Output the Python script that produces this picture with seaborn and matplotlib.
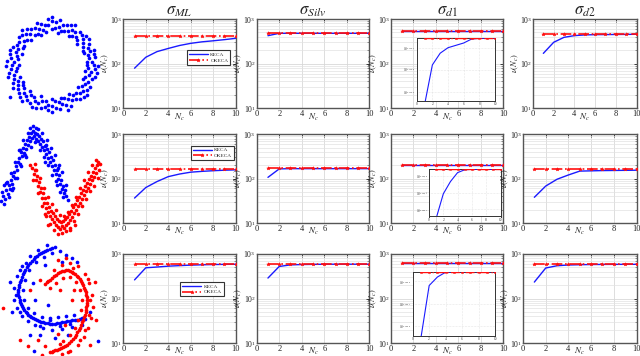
import numpy as np
import matplotlib
matplotlib.use("Agg")
import matplotlib.pyplot as plt
import seaborn as sns
from matplotlib.ticker import FixedLocator, NullLocator, LogLocator, NullFormatter, FixedFormatter

# ---------------- data ----------------
nc = [1, 2, 3, 4, 5, 6, 7, 8, 9, 10]
col_titles = [r"$\sigma_{ML}$", r"$\sigma_{Silv}$", r"$\sigma_{d1}$", r"$\sigma_{d2}$"]
series_names = ["KECA", "OKECA"]

# row 1 (ring)
keca_r1c1 = [79, 139, 186, 219, 255, 285, 308, 325, 345, 369]
okeca_r1c1 = [416, 416, 416, 416, 416, 416, 416, 416, 416, 416]
keca_r1c2 = [423, 478, 478, 478, 478, 478, 478, 478, 478, 478]
okeca_r1c2 = [478, 478, 478, 478, 478, 478, 478, 478, 478, 478]
keca_r1c3 = [538, 538, 538, 538, 538, 538, 538, 538, 538, 538]
okeca_r1c3 = [538, 538, 538, 538, 538, 538, 538, 538, 538, 538]
keca_r1c4 = [170, 301, 389, 424, 440, 446, 448, 450, 452, 455]
okeca_r1c4 = [461, 461, 461, 461, 461, 461, 461, 461, 461, 461]
# row 2 (moons)
keca_r2c1 = [36.5, 63, 86, 111, 127, 140, 146, 151, 155, 158]
okeca_r2c1 = [163, 163, 163, 163, 163, 163, 163, 163, 163, 163]
keca_r2c2 = [107, 166, 168, 168, 168, 168, 168, 168, 168, 168]
okeca_r2c2 = [170, 170, 170, 170, 170, 170, 170, 170, 170, 170]
keca_r2c3 = [204, 204, 204, 204, 204, 204, 204, 204, 204, 204]
okeca_r2c3 = [204, 204, 204, 204, 204, 204, 204, 204, 204, 204]
keca_r2c4 = [38, 68, 97, 121, 148, 150, 152, 153, 154, 155]
okeca_r2c4 = [163, 163, 163, 163, 163, 163, 163, 163, 163, 163]
# row 3 (swirl)
keca_r3c1 = [262, 490, 510, 533, 548, 562, 572, 580, 585, 589]
okeca_r3c1 = [603, 603, 603, 603, 603, 603, 603, 603, 603, 603]
keca_r3c2 = [288, 525, 569, 580, 585, 588, 590, 590, 590, 590]
okeca_r3c2 = [597, 597, 597, 597, 597, 597, 597, 597, 597, 597]
keca_r3c3 = [615, 615, 615, 615, 615, 615, 615, 615, 615, 615]
okeca_r3c3 = [615, 615, 615, 615, 615, 615, 615, 615, 615, 615]
keca_r3c4 = [234, 484, 545, 566, 575, 580, 583, 585, 586, 587]
okeca_r3c4 = [597, 597, 597, 597, 597, 597, 597, 597, 597, 597]

# insets (zoom of sigma_d1 column)
inset_keca_r1 = [537.15, 537.66, 537.81, 537.88, 537.91, 537.94, 537.99, 538.0, 538.0, 538.0]
inset_okeca_r1 = [538.0, 538.0, 538.0, 538.0, 538.0, 538.0, 538.0, 538.0, 538.0, 538.0]
inset_keca_r2 = [203.48, 203.74, 203.87, 203.965, 203.995, 204.0, 204.0, 204.0, 204.0, 204.0]
inset_okeca_r2 = [204.0, 204.0, 204.0, 204.0, 204.0, 204.0, 204.0, 204.0, 204.0, 204.0]
inset_keca_r3 = [614.38, 614.87, 614.95, 614.995, 615.0, 615.0, 615.0, 615.0, 615.0, 615.0]
inset_okeca_r3 = [615.0, 615.0, 615.0, 615.0, 615.0, 615.0, 615.0, 615.0, 615.0, 615.0]

# scatter data sets (read in picture pixel coordinates)
ring_x = [87, 94, 98, 89, 95, 84, 90, 94, 83, 89, 77, 83, 86, 76, 80, 69, 72, 75, 64, 67, 58, 59, 60, 52, 52, 52,
          46, 45, 39, 37, 41, 35, 31, 31, 26, 22, 24, 19, 23, 17, 16, 10, 22, 18, 11, 19, 12, 6, 16, 9, 20, 14, 18,
          13, 23, 24, 19, 30, 26, 22, 34, 30, 41, 38, 36, 46, 45, 52, 52, 52, 59, 60, 64, 66, 68, 69, 72, 76, 80, 78,
          83, 87, 85, 90, 85, 92, 85, 91, 97, 10,
          92, 87, 88, 94, 88, 83, 83, 89, 77, 82, 75, 72, 68, 71, 63, 61, 55, 56, 48, 48, 43, 41, 35, 38, 30, 27, 27,
          22, 19, 24, 13, 18, 17, 10, 14, 7, 11, 17, 14, 8, 18, 13, 18, 23, 24, 20, 31, 27, 35, 32, 42, 41, 48, 48,
          55, 56, 62, 61, 68, 71, 73, 76, 80, 84, 82, 87, 88, 83, 89, 95, 88, 95]
ring_y = [65, 65, 66, 58, 57, 53, 51, 50, 47, 44, 44, 39, 36, 37, 32, 36, 30, 25, 31, 25, 33, 27, 20, 29, 21, 17,
          32, 25, 29, 23, 35, 35, 29, 40, 34, 30, 41, 37, 48, 45, 52, 50, 54, 59, 58, 65, 65, 66, 71, 73, 77, 79, 85,
          88, 82, 88, 93, 91, 96, 101, 97, 103, 96, 103, 108, 101, 107, 99, 106, 112, 102, 109, 98, 105, 110, 94, 100,
          93, 99, 87, 91, 95, 84, 87, 77, 79, 71, 72, 73, 97,
          62, 62, 55, 54, 48, 51, 43, 39, 40, 35, 32, 36, 31, 25, 25, 31, 28, 22, 25, 19, 30, 24, 28, 34, 34, 29, 40,
          35, 42, 46, 47, 49, 56, 54, 62, 61, 69, 68, 75, 77, 81, 83, 89, 85, 93, 97, 95, 100, 101, 107, 101, 108,
          105, 110, 101, 108, 104, 98, 99, 106, 95, 99, 93, 97, 86, 90, 82, 79, 75, 77, 68, 69]

moon_blue_x = [1, 3, 5, 6, 8, 9, 10, 11, 12, 13, 14, 15, 16, 17, 18, 19, 20, 21, 22, 23, 24, 25, 26, 27, 28, 29,
               30, 31, 32, 33, 34, 35, 36, 37, 38, 39, 40, 41, 42, 43, 44, 45, 46, 47, 48, 49, 50, 51, 52, 53, 54,
               55, 56, 57, 58, 59, 60, 61, 62, 63, 64, 65, 66, 7, 20, 36, 46, 57, 25, 12,
               2, 4, 6, 9, 11, 13, 15, 17, 19, 21, 23, 26, 28, 31, 33, 35, 38, 40, 42, 44, 47, 48, 51, 52, 55, 56,
               59, 60, 62, 63, 66, 68, 4, 30, 45, 58]
moon_blue_y = [201, 196, 199, 190, 194, 185, 189, 180, 184, 176, 172, 178, 166, 170, 162, 158, 164, 152, 156, 148,
               153, 144, 149, 140, 145, 137, 141, 133, 138, 131, 136, 133, 139, 134, 141, 136, 144, 139, 147, 141,
               150, 146, 154, 149, 158, 152, 162, 157, 166, 160, 170, 165, 174, 170, 179, 175, 184, 180, 189, 186,
               193, 190, 196, 182, 150, 128, 145, 185, 155, 190,
               192, 204, 183, 197, 173, 188, 162, 178, 150, 166, 140, 157, 133, 147, 126, 142, 129, 150, 133, 157,
               140, 165, 148, 175, 155, 181, 165, 192, 172, 197, 185, 200, 185, 128, 162, 168]
moon_red_x = [32, 34, 35, 36, 37, 38, 39, 40, 41, 42, 43, 44, 45, 46, 47, 48, 49, 50, 51, 52, 53, 54, 55, 56, 57,
              58, 59, 60, 61, 62, 63, 64, 65, 66, 67, 68, 69, 70, 71, 72, 73, 74, 75, 76, 77, 78, 79, 80, 81, 82,
              83, 84, 85, 86, 87, 88, 89, 90, 91, 92, 93, 94, 95, 96, 97, 98, 99, 45, 70, 30,
              33, 35, 38, 40, 42, 44, 46, 48, 50, 52, 54, 56, 58, 60, 62, 64, 66, 68, 70, 72, 74, 76, 78, 80, 82,
              84, 86, 88, 90, 92, 94, 96, 98, 100, 36, 48, 75]
moon_red_y = [168, 174, 170, 180, 176, 186, 182, 192, 188, 198, 193, 203, 198, 208, 203, 212, 207, 216, 211, 219,
              213, 222, 216, 225, 219, 227, 221, 229, 222, 226, 221, 228, 219, 225, 217, 223, 214, 220, 211, 217,
              207, 213, 204, 210, 200, 206, 197, 203, 193, 199, 190, 195, 186, 191, 183, 188, 179, 184, 176, 180,
              172, 177, 168, 173, 165, 162, 170, 214, 230, 165,
              180, 164, 193, 178, 206, 188, 216, 197, 224, 204, 230, 210, 234, 215, 233, 216, 231, 212, 228, 205,
              221, 197, 214, 188, 206, 180, 199, 172, 191, 165, 186, 160, 178, 164, 170, 225, 225]

swirl_blue_x = [55, 50, 45, 41, 37, 34, 30, 27, 24, 22, 20, 19, 18, 19, 20, 22, 24, 27, 30, 33, 37, 41, 45, 50, 55,
                60, 65, 70, 75, 80, 85, 52, 44, 36, 29, 25, 23, 24, 28, 34, 42, 50, 58, 66, 74, 47, 38, 30, 22, 17,
                14, 14, 17, 22, 28, 35, 43, 52, 62, 72, 82, 60, 66, 72, 62, 77, 45, 33, 35, 12, 10, 40, 55, 30, 98,
                34, 90, 68, 48,
                52, 47, 43, 39, 35, 32, 28, 25, 23, 21, 19, 18, 18, 20, 21, 23, 26, 28, 31, 35, 39, 43, 48, 52, 57,
                62, 67, 72, 77, 82, 26, 20, 16, 20, 40, 60, 50, 70]
swirl_blue_y = [247, 249, 251, 253, 256, 259, 263, 267, 272, 277, 282, 287, 292, 297, 302, 306, 310, 313, 316, 318,
                320, 322, 323, 324, 324, 323, 322, 321, 320, 319, 319, 253, 257, 262, 270, 280, 290, 300, 308, 313,
                317, 318, 317, 316, 315, 245, 250, 256, 266, 276, 288, 300, 308, 316, 321, 325, 328, 330, 329, 327,
                325, 251, 255, 258, 262, 262, 265, 283, 300, 312, 282, 335, 338, 335, 341, 351, 312, 335, 305,
                248, 250, 252, 254, 257, 261, 265, 270, 274, 280, 285, 290, 295, 300, 304, 308, 312, 315, 317, 319,
                321, 322, 323, 324, 323, 322, 321, 320, 320, 318, 263, 270, 295, 312, 326, 326, 320, 324]
swirl_red_x = [45, 48, 52, 56, 60, 64, 68, 72, 75, 78, 81, 83, 85, 86, 87, 87, 86, 85, 83, 81, 79, 76, 73, 69, 65,
               61, 57, 53, 50, 50, 56, 63, 70, 76, 80, 82, 81, 78, 75, 70, 63, 54, 62, 70, 78, 85, 89, 92, 93, 91,
               88, 84, 78, 70, 62, 40, 58, 66, 95, 96, 3, 20, 28, 38, 45, 58, 65, 72, 74, 42, 90, 30, 60,
               47, 50, 54, 58, 62, 66, 70, 73, 77, 80, 82, 84, 86, 87, 87, 86, 86, 84, 82, 80, 77, 75, 71, 67, 63,
               59, 55, 52, 73, 88, 90, 89, 85, 80, 60, 68]
swirl_red_y = [284, 281, 278, 275, 272, 271, 270, 272, 274, 277, 281, 285, 290, 295, 300, 305, 310, 315, 320, 325,
               330, 335, 339, 343, 346, 348, 350, 351, 352, 288, 283, 278, 277, 282, 290, 300, 310, 320, 328, 335,
               341, 270, 265, 263, 266, 274, 283, 295, 307, 318, 328, 337, 345, 351, 354, 280, 260, 258, 282, 320,
               308, 340, 346, 340, 346, 334, 325, 300, 290, 355, 345, 290, 290,
               282, 280, 276, 273, 271, 270, 271, 273, 276, 279, 283, 288, 292, 297, 303, 307, 312, 317, 322, 328,
               332, 337, 341, 345, 347, 349, 350, 352, 268, 279, 300, 315, 330, 340, 344, 352]

keca = [[keca_r1c1, keca_r1c2, keca_r1c3, keca_r1c4],
        [keca_r2c1, keca_r2c2, keca_r2c3, keca_r2c4],
        [keca_r3c1, keca_r3c2, keca_r3c3, keca_r3c4]]
okeca = [[okeca_r1c1, okeca_r1c2, okeca_r1c3, okeca_r1c4],
         [okeca_r2c1, okeca_r2c2, okeca_r2c3, okeca_r2c4],
         [okeca_r3c1, okeca_r3c2, okeca_r3c3, okeca_r3c4]]
insets = [(inset_keca_r1, inset_okeca_r1, 537.2, 538.0),
          (inset_keca_r2, inset_okeca_r2, 203.5, 204.0),
          (inset_keca_r3, inset_okeca_r3, 614.4, 615.0)]

# ---------------- style ----------------
sns.set_style("white")
plt.rcParams["font.family"] = ["Liberation Serif", "DejaVu Serif"]
plt.rcParams["mathtext.fontset"] = "stix"

W, H = 640, 356
fig = plt.figure(figsize=(6.4, 3.56), dpi=100)
fig.patch.set_facecolor("white")


def add_px(x0, y0, x1, y1):
    return fig.add_axes([x0 / W, 1 - y1 / H, (x1 - x0) / W, (y1 - y0) / H])


BLUE = "#1a1aff"
RED = "#ff1010"
SPINE = "#555555"

col_x = [(123.3, 235.7), (256.7, 369.3), (391.0, 503.3), (523.0, 636.5)]
row_y = [(19.0, 108.3), (134.3, 223.0), (254.0, 343.0)]
legend_anchor = [(0.76, 0.57), (0.795, 0.79), (0.70, 0.605)]
inset_px = [(416.7, 38.3, 495.0, 101.0), (429.0, 169.3, 500.5, 216.5), (412.7, 271.7, 495.0, 335.7)]

for i in range(3):
    for j in range(4):
        x0, x1 = col_x[j]
        if i == 0 and j == 3:
            x0 = 533.0
        ax = add_px(x0, row_y[i][0], x1, row_y[i][1])
        sns.lineplot(x=nc, y=keca[i][j], ax=ax, color=BLUE, lw=1.0, label=series_names[0], zorder=3)
        sns.lineplot(x=nc, y=okeca[i][j], ax=ax, color=RED, lw=1.2, ls="-.", marker="*",
                     markersize=2.6, markeredgecolor=RED, markeredgewidth=0.4,
                     label=series_names[1], zorder=4)
        ax.set_yscale("log")
        ax.set_ylim(10, 1000)
        ax.set_xlim(0, 10)
        ax.set_xticks([0, 2, 4, 6, 8, 10])
        ax.yaxis.set_major_locator(FixedLocator([10, 100, 1000]))
        ax.yaxis.set_minor_locator(LogLocator(base=10, subs=np.arange(2, 10)))
        ax.yaxis.set_minor_formatter(NullFormatter())
        ax.grid(True, which="major", color="#d8d8d8", lw=0.6, ls="-")
        ax.grid(True, which="minor", axis="y", color="#e2e2e2", lw=0.5, ls="-")
        ax.set_axisbelow(True)
        ax.tick_params(axis="both", which="major", labelsize=6, direction="in", length=2.5,
                       width=0.6, colors="#222222", pad=1.2, top=True, right=True)
        ax.tick_params(axis="y", which="major", labelsize=5.6, pad=0.6)
        ax.tick_params(axis="y", which="minor", direction="in", length=1.3, width=0.4,
                       colors="#444444", right=True)
        for s in ax.spines.values():
            s.set_color(SPINE)
            s.set_linewidth(1.0)
        ax.set_xlabel(r"$N_c$", fontsize=6.5, color="#222222")
        ax.xaxis.set_label_coords(0.5, -0.035)
        ax.set_ylabel(r"$\nu(N_c)$", fontsize=6.0, color="#222222")
        ax.yaxis.set_label_coords(-12.2 / (x1 - x0), 0.5)
        if i == 0:
            ax.set_title(col_titles[j], fontsize=12, pad=3)
        leg = ax.get_legend()
        if leg is not None:
            leg.remove()
        if j == 0:
            lg = ax.legend(loc="center", bbox_to_anchor=legend_anchor[i], fontsize=3.8,
                           frameon=True, fancybox=False, edgecolor="#333333", framealpha=1,
                           borderpad=0.4, handlelength=3.5, labelspacing=0.2, handletextpad=0.5)
            lg.get_frame().set_linewidth(0.8)
        if j == 2:
            k_in, o_in, lo, hi = insets[i]
            ins = add_px(*inset_px[i])
            sns.lineplot(x=nc, y=k_in, ax=ins, color=BLUE, lw=0.8, zorder=3)
            sns.lineplot(x=nc, y=o_in, ax=ins, color=RED, lw=1.0, ls="-.", marker="*",
                         markersize=2.2, markeredgecolor=RED, markeredgewidth=0.4, zorder=4)
            ins.set_yscale("log")
            ins.set_ylim(lo, hi)
            ins.set_xlim(0, 10)
            ins.set_xticks([0, 2, 4, 6, 8, 10])
            yt = [lo + (hi - lo) * f for f in (0.15, 0.5, 0.85)]
            ins.yaxis.set_major_locator(FixedLocator(yt))
            ins.yaxis.set_major_formatter(FixedFormatter(
                ["$10^{%.4f}$" % np.log10(v) for v in yt]))
            ins.yaxis.set_minor_locator(NullLocator())
            ins.grid(True, color="#d0d0d0", lw=0.4, ls=":")
            ins.tick_params(labelsize=2.5, direction="in", length=1, width=0.4, pad=1,
                            colors="#333333")
            ins.set_facecolor("white")
            for s in ins.spines.values():
                s.set_color("#333333")
                s.set_linewidth(0.7)
            ins.set_xlabel("")
            ins.set_ylabel("")

# ---------------- scatter column ----------------
sax = fig.add_axes([0, 0, 112 / W, 1])
sax.set_zorder(-1)
sns.scatterplot(x=ring_x, y=ring_y, ax=sax, color="blue", s=7, linewidth=0)
sns.scatterplot(x=moon_blue_x, y=moon_blue_y, ax=sax, color="blue", s=7, linewidth=0)
sns.scatterplot(x=moon_red_x, y=moon_red_y, ax=sax, color="red", s=7, linewidth=0)
sns.scatterplot(x=swirl_blue_x, y=swirl_blue_y, ax=sax, color="blue", s=7, linewidth=0)
sns.scatterplot(x=swirl_red_x, y=swirl_red_y, ax=sax, color="red", s=7, linewidth=0)
sax.set_xlim(0, 112)
sax.set_ylim(356, 0)
sax.axis("off")

fig.savefig("out.png", dpi=100, facecolor="white")
